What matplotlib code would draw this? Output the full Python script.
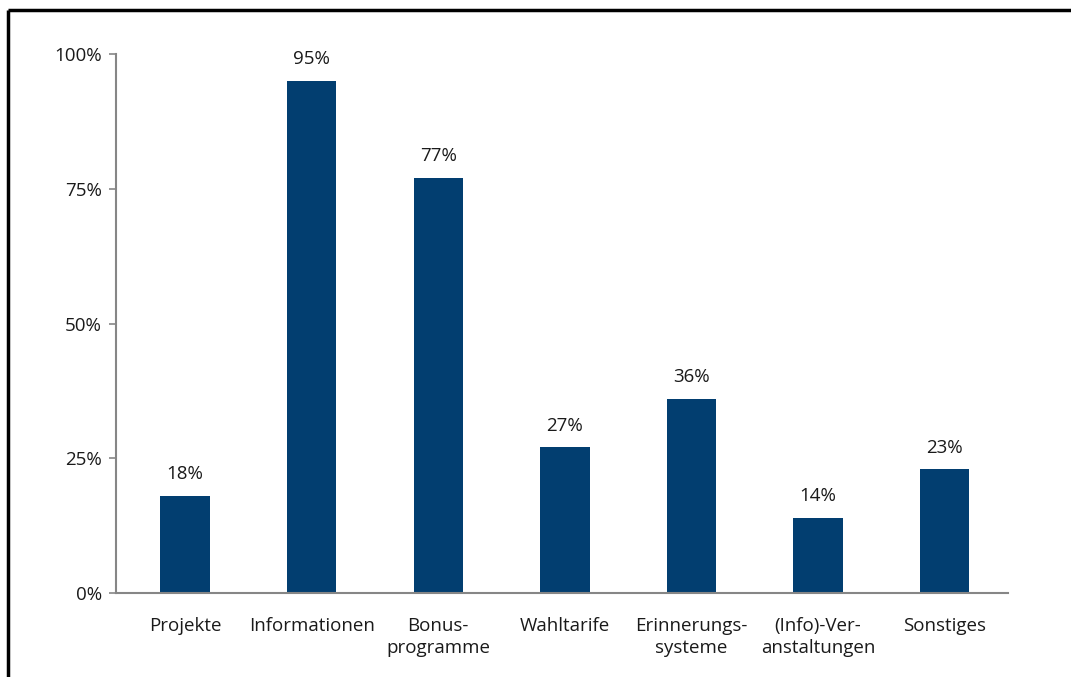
import matplotlib
matplotlib.use("Agg")
import matplotlib.pyplot as plt
from matplotlib.lines import Line2D

categories = ["Projekte", "Informationen", "Bonus-\nprogramme", "Wahltarife",
              "Erinnerungs-\nsysteme", "(Info)-Ver-\nanstaltungen", "Sonstiges"]
values = [18, 95, 77, 27, 36, 14, 23]
value_labels = ["18%", "95%", "77%", "27%", "36%", "14%", "23%"]
yticks = [0, 25, 50, 75, 100]
ytick_labels = ["0%", "25%", "50%", "75%", "100%"]

bar_color = "#023E70"
axis_grey = "#868686"
text_color = "#1a1a1a"

plt.rcParams["font.family"] = ["Open Sans", "DejaVu Sans"]

fig = plt.figure(figsize=(10.71, 6.77), dpi=100)
ax = fig.add_axes([0.1083, 0.1241, 0.8329, 0.7961])

x = list(range(len(categories)))
ax.bar(x, values, width=0.39, color=bar_color, zorder=2)

for xi, v, lab in zip(x, values, value_labels):
    ax.annotate(lab, (xi, v), xytext=(0, 9), textcoords="offset points",
                ha="center", va="bottom", fontsize=13.5, color=text_color)

ax.set_xlim(-0.545, len(categories) - 0.5)
ax.set_ylim(0, 100)
ax.set_yticks(yticks)
ax.set_yticklabels(ytick_labels, fontsize=13.5, color=text_color)
ax.set_xticks(x)
ax.set_xticklabels(categories, fontsize=13.5, color=text_color, linespacing=1.3)
ax.tick_params(axis="x", length=0, pad=17)
ax.tick_params(axis="y", direction="out", length=5, width=1.2, color=axis_grey, pad=5)

for side in ("top", "right"):
    ax.spines[side].set_visible(False)
for side in ("left", "bottom"):
    ax.spines[side].set_color(axis_grey)
    ax.spines[side].set_linewidth(1.5)

# outer frame (top and left edges)
fig.add_artist(Line2D([0.0075, 1.0], [0.9845, 0.9845], color="black", lw=2.5,
                      transform=fig.transFigure, solid_capstyle="butt"))
fig.add_artist(Line2D([0.0075, 0.0075], [0.0, 0.9845], color="black", lw=2.5,
                      transform=fig.transFigure, solid_capstyle="butt"))

fig.savefig("out.png", dpi=100, facecolor="white")
